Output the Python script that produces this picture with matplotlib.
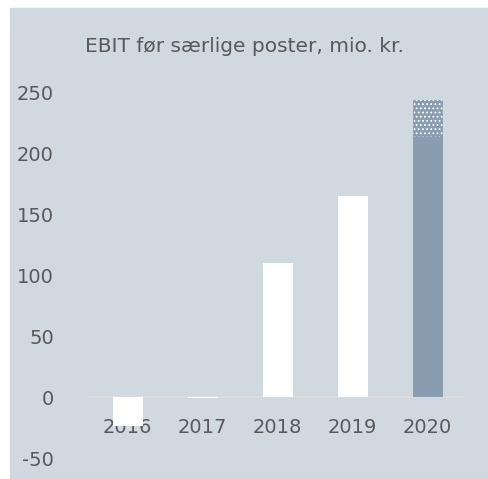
import matplotlib
matplotlib.use("Agg")
from matplotlib import pyplot as plt
from matplotlib.patches import Rectangle

years = ['2016', '2017', '2018', '2019', '2020']
ebit = [-24, -1, 110, 165, 214]
extra = [0, 0, 0, 0, 30]
yticks = [-50, 0, 50, 100, 150, 200, 250]

bg = '#d0d8e0'
txt = '#595959'
bar_colors = ['white', 'white', 'white', 'white', '#8a9cb0']

plt.rcParams['font.family'] = ['DejaVu Sans']
plt.rcParams['hatch.linewidth'] = 0.8

fig = plt.figure(figsize=(4.88, 4.79), dpi=100)
fig.patches.append(Rectangle((10 / 488, 0), 1 - 10 / 488, 1 - 8 / 479,
                             transform=fig.transFigure, color=bg, zorder=-10))

ax = fig.add_axes([90 / 488, 21 / 479, 375 / 488, 365 / 479])
ax.set_facecolor('none')
ax.set_zorder(5)

x = range(len(years))
ax.bar(x, ebit, width=0.4, color=bar_colors, zorder=3)
ax.bar(x, extra, bottom=ebit, width=0.4, color='#8a9cb0', edgecolor='white',
       linewidth=0, hatch='....', zorder=3)

ax.set_xlim(-0.5, 4.5)
ax.set_ylim(-50, 250)
ax.set_yticks(yticks)
ax.set_yticklabels([str(v) for v in yticks])
ax.set_xticks(list(x))
ax.set_xticklabels(years)

for s in ['top', 'right', 'left']:
    ax.spines[s].set_visible(False)
ax.spines['bottom'].set_position(('data', 0))
ax.spines['bottom'].set_color('#dcdcdc')
ax.spines['bottom'].set_linewidth(1.5)
ax.spines['bottom'].set_zorder(1)

ax.tick_params(axis='both', length=0, labelsize=14, colors=txt)
ax.tick_params(axis='y', pad=26)
ax.tick_params(axis='x', pad=15)

fig.text(0.5, 1 - 47 / 479, 'EBIT før særlige poster, mio. kr.', ha='center',
         va='center', fontsize=14.5, color=txt)

fig.savefig('out.png', dpi=100)
